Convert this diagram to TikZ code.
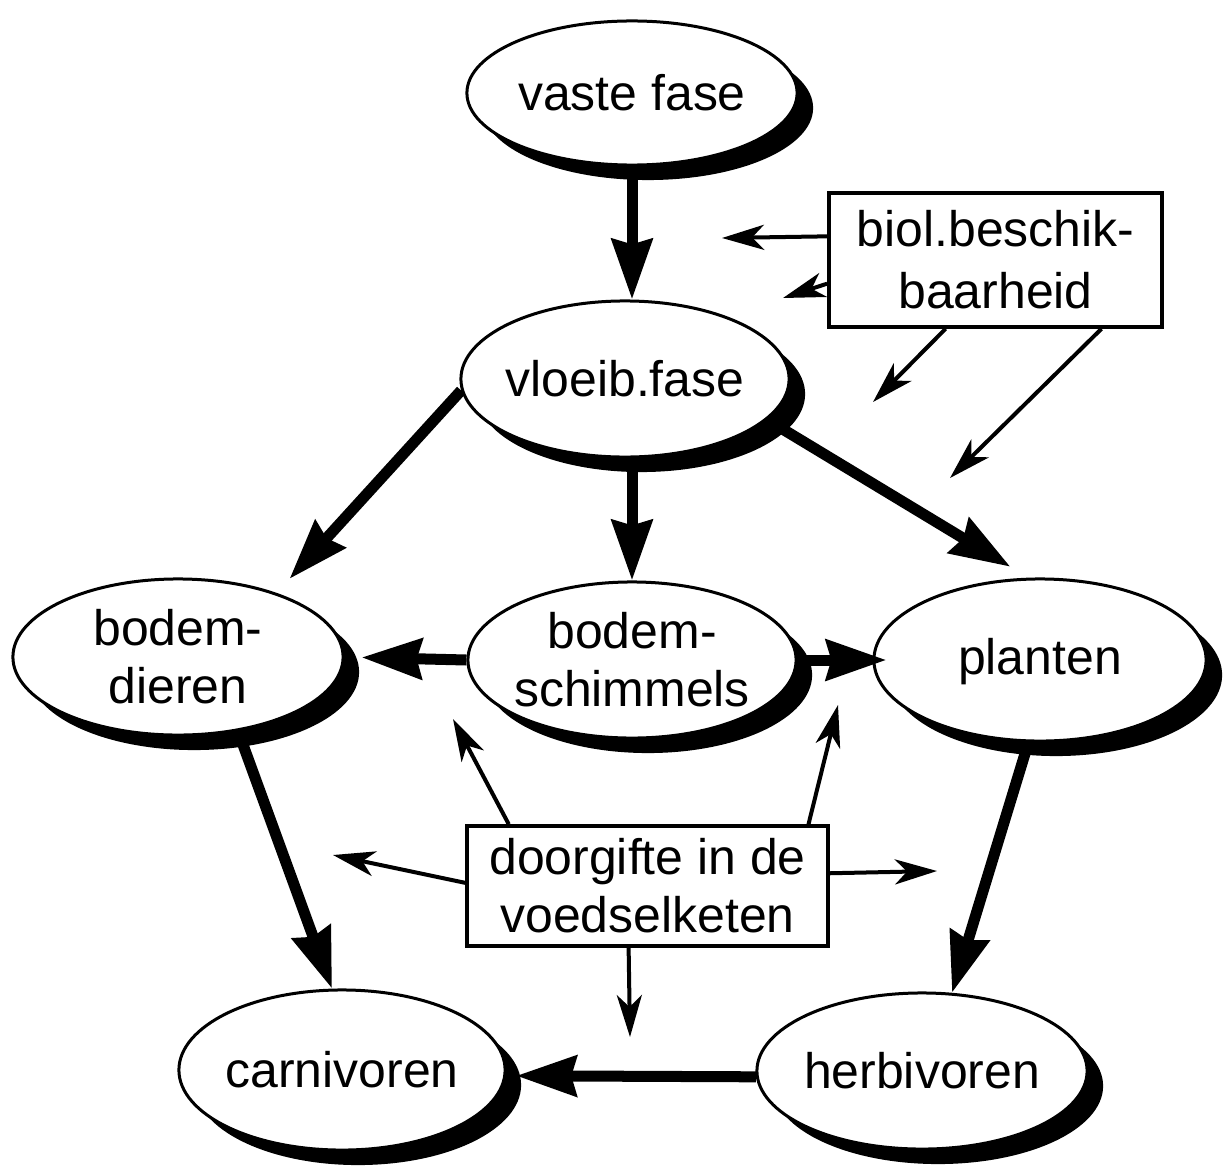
\documentclass[tikz,border=0pt]{standalone}
\usepackage{fontspec}
\setmainfont{Liberation Sans}
\usetikzlibrary{arrows.meta,shapes.geometric,shadows}
\begin{document}
\begin{tikzpicture}[x=0.01cm,y=-0.01cm,
  lbl/.style={font=\fontsize{14.2}{16.5}\selectfont, align=center, inner sep=0pt},
  ell/.style={ellipse, draw, line width=0.03cm, fill=white, inner sep=0pt,
    drop shadow={shadow xshift=0.16cm, shadow yshift=-0.15cm, opacity=1, fill=black}},
  box/.style={rectangle, draw, line width=0.035cm, fill=white, inner sep=0pt, lbl},
  thick arrow/.style={line width=0.11cm, -{Stealth[length=0.6cm,width=0.4cm,inset=0.05cm]}},
  thin arrow/.style={line width=0.04cm, -{Stealth[length=0.42cm,width=0.25cm,inset=0.12cm]}},
]
\useasboundingbox (0,0) rectangle (1225,1170);

% ellipses
\node[ell, minimum width=3.3cm, minimum height=1.44cm] (vaste) at (632,93) {};
\node[ell, minimum width=3.28cm, minimum height=1.56cm] (vloeib) at (625,379) {};
\node[ell, minimum width=3.3cm, minimum height=1.56cm] (bodemdieren) at (178,657) {};
\node[ell, minimum width=3.28cm, minimum height=1.56cm] (bodemschimmels) at (632,660) {};
\node[ell, minimum width=3.32cm, minimum height=1.62cm] (planten) at (1040,660) {};
\node[ell, minimum width=3.26cm, minimum height=1.6cm] (carnivoren) at (342,1070) {};
\node[ell, minimum width=3.3cm, minimum height=1.56cm] (herbivoren) at (922,1071) {};

% ellipse texts
\node[lbl] (vastet) at (vaste) {vaste fase};
\node[lbl] (vloeibt) at (vloeib) {vloeib.fase};
\node[lbl] (bodemdierent) at (bodemdieren) {bodem-\\dieren};
\node[lbl] (bodemschimmelst) at (bodemschimmels) {bodem-\\schimmels};
\node[lbl] (plantent) at ([yshift=-0.02cm]planten.center) {planten};
\node[lbl] (carnivorent) at (carnivoren) {carnivoren};
\node[lbl] (herbivorent) at (herbivoren) {herbivoren};

% boxes
\node[box, minimum width=3.33cm, minimum height=1.34cm] (biol) at (995.5,260) {biol.beschik-\\[0.04cm]baarheid};
\node[box, minimum width=3.61cm, minimum height=1.2cm] (door) at (647.5,886) {doorgifte in de\\voedselketen};

% free ends of thin arrows
\coordinate (b1) at (722,238);
\coordinate (b2) at (783,298);
\coordinate (b3) at (873,402);
\coordinate (b4) at (950,478);
\coordinate (d1) at (453,719);
\coordinate (d2) at (838,705);
\coordinate (d3) at (333,855);
\coordinate (d4) at (937,871);
\coordinate (d5) at (630,1037);

% thick arrows
\draw[thick arrow] (vaste.south) -- (vaste.south |- vloeib.north);
\draw[thick arrow, shorten >=0.19cm] (vloeib.184.5) -- (bodemdieren.33.3);
\draw[thick arrow] (bodemschimmels.north |- vloeib.south) -- (bodemschimmels.north);
\draw[thick arrow, shorten >=0.21cm] (vloeib.344.3) -- (planten.98.3);
\draw[thick arrow, shorten >=0.17cm] (bodemschimmels.west) -- (bodemdieren.east);
\draw[thick arrow, shorten >=-0.14cm] (bodemschimmels.east) -- (planten.west);
\draw[thick arrow] (bodemdieren.309.9) -- (carnivoren.97.1);
\draw[thick arrow] (planten.262.2) -- (herbivoren.69.8);
\draw[thick arrow, shorten >=0.1cm] (herbivoren.182) -- (carnivoren.358);

% thin arrows
\draw[thin arrow] (biol.172.5) -- (b1);
\draw[thin arrow] (biol.188.5) -- (b2);
\draw[thin arrow] (biol.234.7) -- (b3);
\draw[thin arrow] (biol.327.3) -- (b4);
\draw[thin arrow] (door.156.4) -- (d1);
\draw[thin arrow] (door.21.5) -- (d2);
\draw[thin arrow] (door.179) -- (d3);
\draw[thin arrow] (door.4.8) -- (d4);
\draw[thin arrow] (door.253.7) -- (d5);
\end{tikzpicture}
\end{document}
